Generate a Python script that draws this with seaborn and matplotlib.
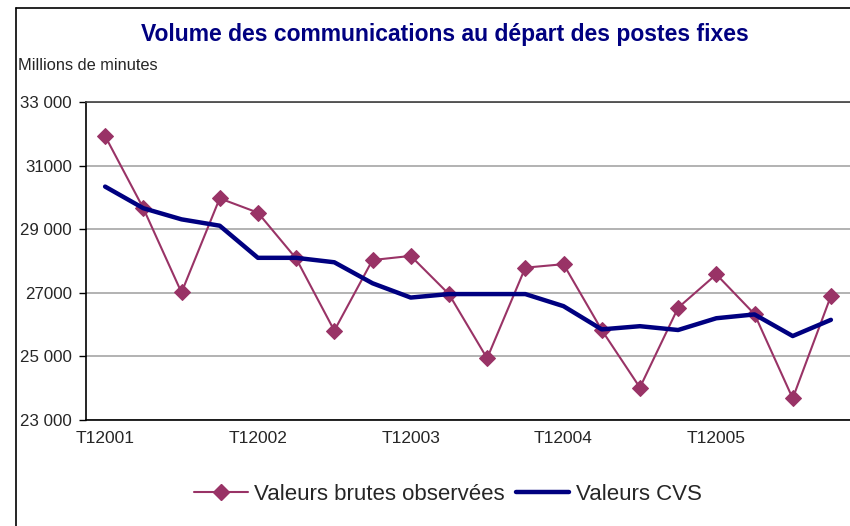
import pandas as pd
import matplotlib.pyplot as plt
import seaborn as sns
from matplotlib.lines import Line2D

# Data (millions de minutes, par trimestre 2001-2005)
quarters = [f"T{q}{y}" for y in range(2001, 2006) for q in range(1, 5)]
brutes = [31930, 29660, 27010, 29970, 29520, 28080, 25810, 28030, 28160, 26960,
          24940, 27790, 27900, 25830, 24020, 26530, 27580, 26330, 23680, 26900]
cvs = [30340, 29660, 29310, 29110, 28100, 28100, 27960, 27300, 26850, 26960,
       26960, 26960, 26580, 25850, 25950, 25830, 26200, 26320, 25640, 26150]
tick_labels = ["T12001", "T12002", "T12003", "T12004", "T12005"]
y_ticks = [23000, 25000, 27000, 29000, 31000, 33000]
y_labels = ["23 000", "25 000", "27000", "29 000", "31000", "33 000"]

df = pd.DataFrame({"pos": range(len(quarters)), "quarter": quarters,
                   "brutes": brutes, "cvs": cvs})

sns.set_style("white")
plt.rcParams["font.family"] = ["Liberation Sans", "DejaVu Sans"]

fig = plt.figure(figsize=(8.5, 5.26), dpi=100)
ax = fig.add_axes([86 / 850, 1 - 420 / 526, 1 - 86 / 850, 318 / 526])

raw_col = "#993366"
cvs_col = "#000080"

sns.lineplot(data=df, x="pos", y="brutes", ax=ax, color=raw_col, lw=1.5,
             marker="D", markersize=8.5, markeredgecolor=raw_col, zorder=3)
sns.lineplot(data=df, x="pos", y="cvs", ax=ax, color=cvs_col, lw=3.2, zorder=4)

ax.set_xlim(-0.5, len(quarters) - 0.5)
ax.set_ylim(23000, 33000)
ax.set_yticks(y_ticks)
ax.set_yticklabels(y_labels, fontsize=12.2)
ax.set_xticks([quarters.index(t) for t in tick_labels])
ax.set_xticklabels(tick_labels, fontsize=12.5)
ax.set_xticks([i - 0.5 for i in range(len(quarters) + 1)], minor=True)
ax.tick_params(axis="x", which="major", length=0, pad=8)
ax.tick_params(axis="x", which="minor", length=4, width=1, color="black", direction="out")
ax.tick_params(axis="y", length=5, width=1, color="black", direction="out", pad=5, left=True)
ax.set_xlabel("")
ax.set_ylabel("")

ax.grid(axis="y", color="#a6a6a6", lw=1.2)
ax.set_axisbelow(True)
for s in ["left", "bottom"]:
    ax.spines[s].set_color("black")
    ax.spines[s].set_linewidth(1.2)
ax.spines["top"].set_color("#404040")
ax.spines["top"].set_linewidth(1.2)
ax.spines["right"].set_visible(False)

fig.text(445 / 850, 1 - 35 / 526, "Volume des communications au départ des postes fixes",
         ha="center", va="center", fontsize=16.5, fontweight="bold", color=cvs_col)
fig.text(18 / 850, 1 - 66 / 526, "Millions de minutes", ha="left", va="center",
         fontsize=11.8)

# outer frame (left and top edges visible)
fig.add_artist(Line2D([16 / 850, 16 / 850], [0, 1 - 8 / 526], color="black", lw=1.2))
fig.add_artist(Line2D([16 / 850, 1], [1 - 8 / 526, 1 - 8 / 526], color="black", lw=1.2))

handles = [Line2D([], [], color=raw_col, lw=1.5, marker="D", markersize=8.5),
           Line2D([], [], color=cvs_col, lw=3.2)]
fig.legend(handles, ["Valeurs brutes observées", "Valeurs CVS"], loc="center",
           bbox_to_anchor=(448 / 850, 1 - 494 / 526), ncol=2, frameon=False,
           fontsize=16, handlelength=2.4, handletextpad=0.3, columnspacing=0.5)

fig.savefig("out.png", dpi=100)
